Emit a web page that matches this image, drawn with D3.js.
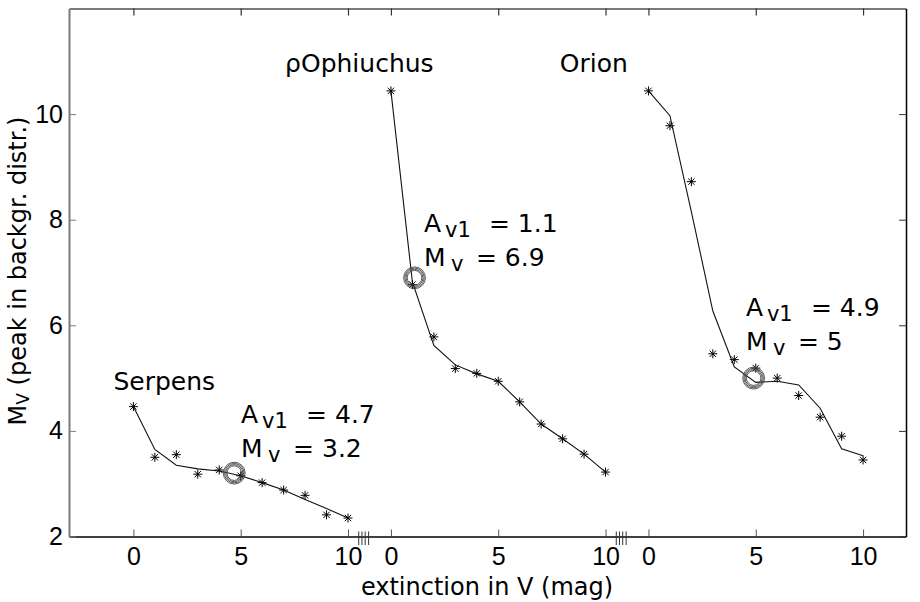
<!DOCTYPE html>
<html>
<head>
<meta charset="utf-8">
<script src="https://cdn.jsdelivr.net/npm/d3@7"></script>
<style>
  html, body { margin: 0; padding: 0; background: #fff; }
  svg { display: block; }
  text { fill: #000; }
</style>
</head>
<body>
<svg id="chart" width="920" height="602"></svg>
<script>
// ---------------- DATA ----------------
const extinction = [0, 1, 2, 3, 4, 5, 6, 7, 8, 9, 10];
const regions = ["Serpens", "ρOphiuchus", "Orion"];

const serpensStars = [4.46, 3.50, 3.55, 3.18, 3.26, 3.15, 3.02, 2.88, 2.78, 2.41, 2.35];
const serpensFit   = [4.46, 3.65, 3.35, 3.28, 3.24, 3.15, 3.02, 2.88, 2.70, 2.53, 2.35];

const ophStars = [10.44, 6.77, 5.78, 5.18, 5.09, 4.94, 4.55, 4.13, 3.85, 3.56, 3.22];
const ophFit   = [10.44, 6.82, 5.62, 5.25, 5.08, 4.94, 4.55, 4.13, 3.85, 3.56, 3.22];

const orionStars = [10.44, 9.78, 8.72, 5.46, 5.35, 5.19, 5.00, 4.67, 4.26, 3.90, 3.45];
const orionFit   = [10.44, 9.97, 8.15, 6.27, 5.21, 4.92, 4.94, 4.87, 4.43, 3.66, 3.53];

const peakAv1 = [4.7, 1.1, 4.9];
const peakMv  = [3.2, 6.9, 5];

const xTickValues = [0, 5, 10];
const xTickLabels = ["0", "5", "10"];
const yTickValues = [2, 4, 6, 8, 10];
const yTickLabels = ["2", "4", "6", "8", "10"];
const breakMarks = [10.5, 10.65, 10.8, 10.96];

// ---------------- LAYOUT ----------------
(function () {
const panelOffset = [0, 12, 24];        // broken x axis: each panel shifted
const nameAnchor = [[-0.93, 4.78], [-4.93, 10.8], [-4.13, 10.8]];  // data units in own panel
const noteAnchor = [[5.02, 4.15], [1.54, 7.76], [4.54, 6.17]];

const mLeft = 69, mRight = 906, mTop = 8.5, mBottom = 536.5;
const svg = d3.select("#chart");

const x = d3.scaleLinear().domain([-3, 36]).range([mLeft, mRight]);
const y = d3.scaleLinear().domain([2, 12]).range([mBottom, mTop]);

const stars = [serpensStars, ophStars, orionStars];
const fits = [serpensFit, ophFit, orionFit];

const allTicks = [];
const allTickLabels = [];
panelOffset.forEach(o => xTickValues.forEach((v, i) => { allTicks.push(o + v); allTickLabels.push(xTickLabels[i]); }));

const tickFont = "'Liberation Sans', Arial, Helvetica, sans-serif";
const textFont = "'DejaVu Sans', Verdana, sans-serif";
const GRAY = "#7a7a7a";

// ---------------- AXES ----------------
const gB = svg.append("g").attr("transform", `translate(0,${mBottom})`)
  .call(d3.axisBottom(x).tickValues(allTicks).tickFormat((d, i) => allTickLabels[i])
    .tickSizeInner(-7).tickSizeOuter(0).tickPadding(11));
gB.select(".domain").attr("stroke", "#000").attr("stroke-width", 1.3);
gB.selectAll(".tick line").attr("stroke", "#555").attr("stroke-width", 1);
gB.selectAll(".tick text").attr("font-family", tickFont).attr("font-size", 25).attr("fill", "#000");

const gT = svg.append("g").attr("transform", `translate(0,${mTop})`)
  .call(d3.axisTop(x).tickValues(allTicks).tickFormat("").tickSizeInner(-7).tickSizeOuter(0));
gT.select(".domain").attr("stroke", GRAY).attr("stroke-width", 2);
gT.selectAll(".tick line").attr("stroke", "#333").attr("stroke-width", 1.2);

const gL = svg.append("g").attr("transform", `translate(${mLeft},0)`)
  .call(d3.axisLeft(y).tickValues(yTickValues).tickFormat((d, i) => yTickLabels[i])
    .tickSizeInner(-7).tickSizeOuter(0).tickPadding(6));
gL.select(".domain").attr("stroke", GRAY).attr("stroke-width", 2);
gL.selectAll(".tick line").attr("stroke", GRAY).attr("stroke-width", 1);
gL.selectAll(".tick text").attr("font-family", tickFont).attr("font-size", 25).attr("fill", "#000");

const gR = svg.append("g").attr("transform", `translate(${mRight},0)`)
  .call(d3.axisRight(y).tickValues(yTickValues).tickFormat("").tickSizeInner(-7).tickSizeOuter(0));
gR.select(".domain").attr("stroke", "#000").attr("stroke-width", 1.5);
gR.selectAll(".tick line").attr("stroke", "#333").attr("stroke-width", 1);

// break marks on the x axis
const brk = [];
panelOffset.slice(0, 2).forEach(o => breakMarks.forEach(b => brk.push(o + b)));
svg.append("g").selectAll("line").data(brk).join("line")
  .attr("x1", d => x(d)).attr("x2", d => x(d))
  .attr("y1", mBottom - 5).attr("y2", mBottom + 8.5)
  .attr("stroke", "#333").attr("stroke-width", 1);

// axis titles
svg.append("text")
  .attr("x", 487).attr("y", 595).attr("text-anchor", "middle")
  .attr("font-family", textFont).attr("font-size", 24)
  .text("extinction in V (mag)");

const yl = svg.append("text")
  .attr("transform", "translate(26,271) rotate(-90)")
  .attr("text-anchor", "middle")
  .attr("font-family", textFont).attr("font-size", 24);
yl.append("tspan").text("M");
yl.append("tspan").attr("font-size", 17).attr("dy", 3).text("V");
yl.append("tspan").attr("dy", -3).text(" (peak in backgr. distr.)");

// ---------------- MARKS ----------------
const asterisk = {
  draw(ctx, size) {
    const r = Math.sqrt(size) / 2;
    const d = r * Math.SQRT1_2;
    ctx.moveTo(-r, 0); ctx.lineTo(r, 0);
    ctx.moveTo(0, -r); ctx.lineTo(0, r);
    ctx.moveTo(-d, -d); ctx.lineTo(d, d);
    ctx.moveTo(-d, d); ctx.lineTo(d, -d);
  }
};
const starPath = d3.symbol().type(asterisk).size(81)();

const line = d3.line();

regions.forEach((name, k) => {
  const o = panelOffset[k];
  const g = svg.append("g");

  g.append("path")
    .attr("d", line(extinction.map((a, i) => [x(o + a), y(fits[k][i])])))
    .attr("fill", "none").attr("stroke", "#111").attr("stroke-width", 1.1);

  g.selectAll("path.star").data(extinction).join("path").attr("class", "star")
    .attr("d", starPath)
    .attr("transform", (a, i) => `translate(${x(o + a)},${y(stars[k][i])})`)
    .attr("fill", "none").attr("stroke", "#000").attr("stroke-width", 1);

  // peak marker (concentric rings)
  const cx = x(o + peakAv1[k]), cy = y(peakMv[k]);
  [7.3, 8.5, 9.7, 10.9].forEach(r => {
    g.append("circle").attr("cx", cx).attr("cy", cy).attr("r", r)
      .attr("fill", "none").attr("stroke", "#444").attr("stroke-width", 0.9);
  });

  // region name
  g.append("text")
    .attr("x", x(o + nameAnchor[k][0])).attr("y", y(nameAnchor[k][1]))
    .attr("font-family", textFont).attr("font-size", 25)
    .text(name);

  // annotation
  const ax = x(o + noteAnchor[k][0]), ay = y(noteAnchor[k][1]);
  const t1 = g.append("text").attr("font-family", textFont).attr("font-size", 25);
  t1.append("tspan").attr("x", ax).attr("y", ay).text("A");
  t1.append("tspan").attr("x", ax + 21).attr("y", ay + 5).attr("font-size", 21).text("v1");
  t1.append("tspan").attr("x", ax + 65).attr("y", ay).text("= " + peakAv1[k]);

  const ay2 = ay + 34;
  const t2 = g.append("text").attr("font-family", textFont).attr("font-size", 25);
  t2.append("tspan").attr("x", ax).attr("y", ay2).text("M");
  t2.append("tspan").attr("x", ax + 27).attr("y", ay2 + 5).attr("font-size", 21).text("v");
  t2.append("tspan").attr("x", ax + 52).attr("y", ay2).text("= " + peakMv[k]);
});
})();
</script>
</body>
</html>
